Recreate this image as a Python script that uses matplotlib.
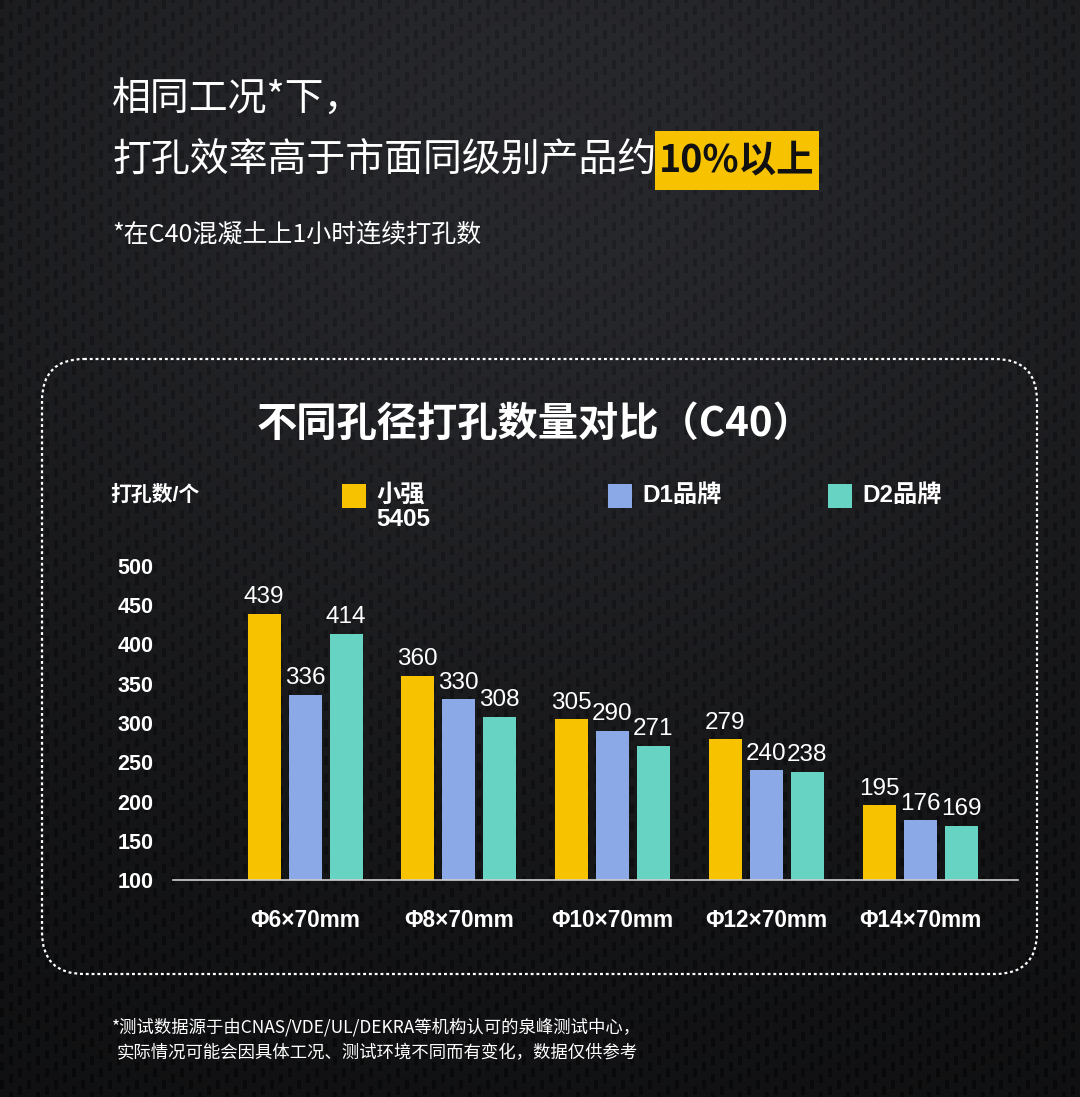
import numpy as np
import matplotlib
matplotlib.use("Agg")
import matplotlib.pyplot as plt
from matplotlib.patches import FancyBboxPatch, Rectangle

# ---------------- data ----------------
categories = ['Φ6×70mm', 'Φ8×70mm', 'Φ10×70mm', 'Φ12×70mm', 'Φ14×70mm']
series_names = ['小强\n5405', 'D1品牌', 'D2品牌']
xiaoqiang = [439, 360, 305, 279, 195]
d1_brand = [336, 330, 290, 240, 176]
d2_brand = [414, 308, 271, 238, 169]
y_ticks = [100, 150, 200, 250, 300, 350, 400, 450, 500]
colors = ['#F7C300', '#8BA9E6', '#66D3C3']

W, H = 1080, 1097
fig = plt.figure(figsize=(W / 100, H / 100), dpi=100)

CJK = 'Noto Sans CJK SC'
MIX = ['Liberation Sans', 'Noto Sans CJK SC', 'DejaVu Sans']

# ---------------- background (pixel coords) ----------------
bg = fig.add_axes([0, 0, 1, 1], zorder=0)
bg.set_xlim(0, W)
bg.set_ylim(H, 0)
bg.axis('off')

yy, xx = np.mgrid[0:H, 0:W].astype(float)
base = 0.05 + 0.10 * np.exp(-((xx - 560) / 750) ** 2 - ((yy - 150) / 650) ** 2)
# subtle carbon-fibre weave: short vertical dark dashes on diagonal rows
col = np.floor(xx / 9)
phase = (yy + col * 6) % 18
dash_on = ((xx % 9) < 4) & (phase < 9)
weave = np.where(dash_on, -1.0, 0.4)
tex = 0.022 * weave
img = np.clip(base + tex, 0, 1)
rgb = np.dstack([img * 0.97, img * 0.99, img * 1.08])
bg.imshow(np.clip(rgb, 0, 1), extent=(0, W, H, 0), aspect='auto', zorder=0,
          interpolation='bilinear')

# heading texts
bg.text(112, 100, '相同工况*下，', color='white', fontsize=28, family=CJK,
        va='center', ha='left')
bg.text(112, 160, '打孔效率高于市面同级别产品约', color='white', fontsize=28,
        family=CJK, va='center', ha='left')
bg.add_patch(Rectangle((655, 131), 164, 59, facecolor='#F7C300', edgecolor='none', zorder=2))
bg.text(737, 160, '10%以上', color='#111111', fontsize=27, family=CJK,
        fontweight='bold', va='center', ha='center', zorder=3)
bg.text(112, 234, '*在C40混凝土上1小时连续打孔数', color='white', fontsize=18,
        family=CJK, va='center', ha='left')

# dotted rounded frame
frame = FancyBboxPatch((42, 359), 995, 615, boxstyle='round,pad=0,rounding_size=42',
                       facecolor='none', edgecolor='white', linewidth=1.6,
                       linestyle=(0, (1.3, 1.3)), zorder=2)
bg.add_patch(frame)

# chart title
bg.text(535, 424, '不同孔径打孔数量对比（C40）', color='white', fontsize=29,
        family=CJK, fontweight='bold', va='center', ha='center')

# y-axis unit label
bg.text(110, 495, '打孔数/个', color='white', fontsize=15, family=MIX,
        fontweight='bold', va='center', ha='left')

# legend (manual)
legend_x = [342, 608, 828]
for lx, name, c in zip(legend_x, series_names, colors):
    bg.add_patch(Rectangle((lx, 484), 24, 24, facecolor=c, edgecolor='none', zorder=2))
    bg.text(lx + 34, 484, name, color='white', fontsize=17.5, family=MIX,
            fontweight='bold', va='top', ha='left', linespacing=1.05)

# footnote
bg.text(112, 1027, '*测试数据源于由CNAS/VDE/UL/DEKRA等机构认可的泉峰测试中心，',
        color='white', fontsize=12.5, family=CJK, va='center', ha='left')
bg.text(117, 1053, '实际情况可能会因具体工况、测试环境不同而有变化，数据仅供参考',
        color='white', fontsize=12.5, family=CJK, va='center', ha='left')

# ---------------- bar chart ----------------
left_px, right_px, bot_px, top_px = 173, 1018, 880, 566
ax = fig.add_axes([left_px / W, 1 - bot_px / H, (right_px - left_px) / W,
                   (bot_px - top_px) / H], zorder=1)
ax.patch.set_alpha(0)

spacing = 153.75
x = np.arange(len(categories))
bw = 33 / spacing
off = 41 / spacing
ax.set_xlim((left_px - 305) / spacing, 4 + (right_px - 920) / spacing)
ax.set_ylim(100, 500)

all_series = [xiaoqiang, d1_brand, d2_brand]
for i, (vals, c) in enumerate(zip(all_series, colors)):
    bars = ax.bar(x + (i - 1) * off, np.array(vals) - 100, width=bw, bottom=100,
                  color=c, edgecolor='none', zorder=2)
    for rect, v in zip(bars, vals):
        ax.annotate(str(v), (rect.get_x() + rect.get_width() / 2, v),
                    xytext=(0, 4), textcoords='offset points', ha='center',
                    va='bottom', color='white', fontsize=17.5,
                    family='Liberation Sans', annotation_clip=False)

for s in ['top', 'right', 'left']:
    ax.spines[s].set_visible(False)
ax.spines['bottom'].set_color('#cfcfcf')
ax.spines['bottom'].set_linewidth(1.2)

ax.set_yticks(y_ticks)
ax.set_yticklabels([str(t) for t in y_ticks], fontsize=15.5, fontweight='bold',
                   color='white', family='Liberation Sans')
ax.tick_params(axis='y', length=0, pad=14)
ax.set_xticks(x)
ax.set_xticklabels(categories, fontsize=16.3, fontweight='bold', color='white',
                   family='Liberation Sans')
ax.tick_params(axis='x', length=0, pad=21)

fig.savefig('out.png', dpi=100, facecolor='#111214')
